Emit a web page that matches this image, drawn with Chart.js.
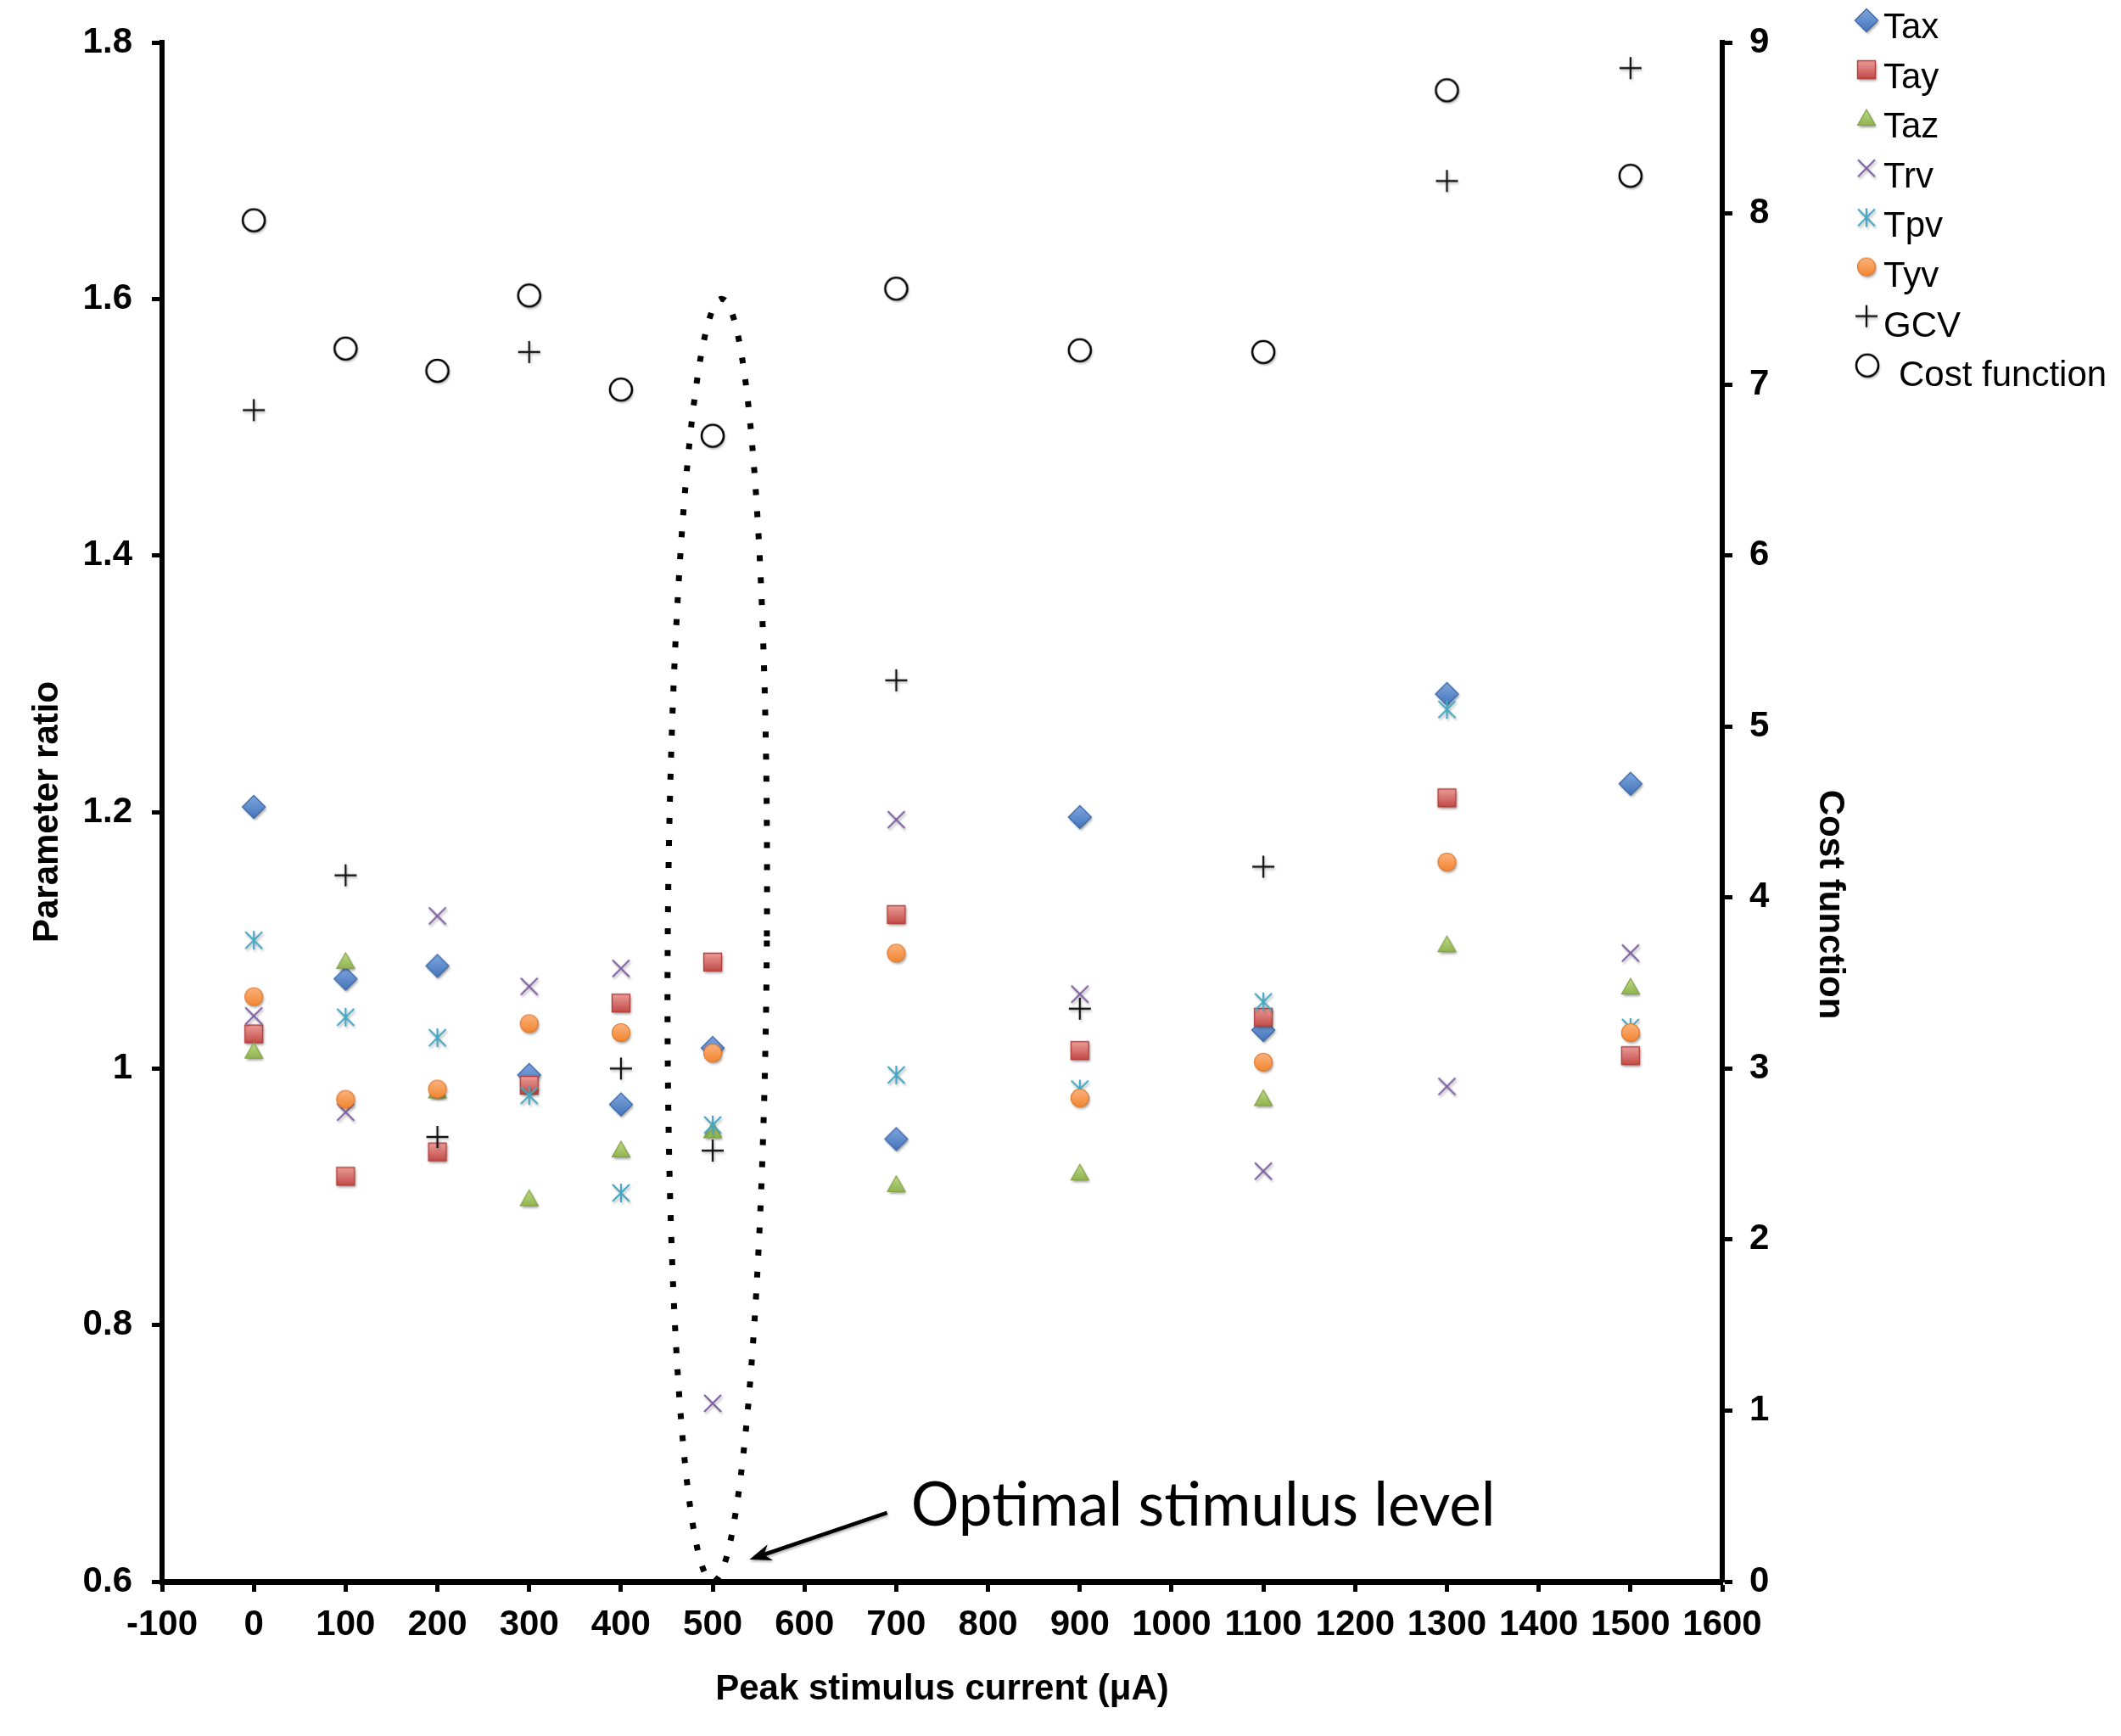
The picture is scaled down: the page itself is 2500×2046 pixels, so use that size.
<!DOCTYPE html>
<html><head><meta charset="utf-8">
<script src="https://cdn.jsdelivr.net/npm/chart.js@4.4.1/dist/chart.umd.min.js"></script>
<style>html,body{margin:0;padding:0;background:#fff;overflow:hidden}canvas{display:block}</style>
</head><body>
<canvas id="c" width="2500" height="2046" style="width:2500px;height:2046px"></canvas>
<script>
// ---- data ----
const stimulus = [0, 100, 200, 300, 400, 500, 700, 900, 1100, 1300, 1500];
const tax  = [1.204, 1.070, 1.080, 0.995, 0.972, 1.016, 0.945, 1.196, 1.030, 1.292, 1.222];
const tay  = [1.027, 0.916, 0.935, 0.987, 1.051, 1.083, 1.120, 1.014, 1.040, 1.211, 1.010];
const taz  = [1.013, 1.083, 0.982, 0.898, 0.936, 0.951, 0.909, 0.918, 0.976, 1.096, 1.063];
const trv  = [1.041, 0.966, 1.119, 1.064, 1.078, 0.739, 1.194, 1.058, 0.920, 0.986, 1.090];
const tpv  = [1.100, 1.040, 1.024, 0.979, 0.903, 0.956, 0.995, 0.984, 1.052, 1.280, 1.032];
const tyv  = [1.056, 0.976, 0.984, 1.035, 1.028, 1.012, 1.090, 0.977, 1.005, 1.161, 1.028];
const gcv  = [6.85, 4.13, 2.60, 7.19, 3.00, 2.52, 5.27, 3.35, 4.18, 8.19, 8.85];
const cost = [7.96, 7.21, 7.08, 7.52, 6.97, 6.70, 7.56, 7.20, 7.19, 8.72, 8.22];
const seriesNames = ['Tax', 'Tay', 'Taz', 'Trv', 'Tpv', 'Tyv', 'GCV', 'Cost function'];
const xTickValues = [-100, 0, 100, 200, 300, 400, 500, 600, 700, 800, 900, 1000, 1100, 1200, 1300, 1400, 1500, 1600];
const leftTickValues = [0.6, 0.8, 1.0, 1.2, 1.4, 1.6, 1.8];
const rightTickValues = [0, 1, 2, 3, 4, 5, 6, 7, 8, 9];
const xTitle = 'Peak stimulus current (\u03bcA)';
const leftTitle = 'Parameter ratio';
const rightTitle = 'Cost function';
const annotationText = 'Optimal stimulus level';

const FONT = "'Liberation Sans', Arial, Helvetica, sans-serif";

// ---- marker images (Excel-like) ----
function makeMarker(kind) {
  const S = 44;
  const c = document.createElement('canvas');
  c.width = S; c.height = S;
  const g = c.getContext('2d');
  g.translate(S / 2, S / 2);
  const shadow = (a) => { g.shadowColor = 'rgba(0,0,0,' + a + ')'; g.shadowBlur = 3; g.shadowOffsetX = 1.5; g.shadowOffsetY = 2.5; };
  const noShadow = () => { g.shadowColor = 'transparent'; };
  const grad = (top, bot, h) => { const gr = g.createLinearGradient(0, -h, 0, h); gr.addColorStop(0, top); gr.addColorStop(1, bot); return gr; };
  g.lineJoin = 'miter';
  switch (kind) {
    case 'diamond': {
      const r = 13.5;
      g.beginPath(); g.moveTo(0, -r); g.lineTo(r, 0); g.lineTo(0, r); g.lineTo(-r, 0); g.closePath();
      shadow(0.35); g.fillStyle = grad('#7FA7DD', '#4474BC', r); g.fill();
      noShadow(); g.lineWidth = 1.4; g.strokeStyle = '#3D68A8'; g.stroke();
      break;
    }
    case 'square': {
      const h = 10.5;
      g.beginPath(); g.rect(-h, -h, 2 * h, 2 * h);
      shadow(0.35); g.fillStyle = grad('#EC9C99', '#C24B47', h); g.fill();
      noShadow(); g.lineWidth = 1.4; g.strokeStyle = '#B03F3B'; g.stroke();
      break;
    }
    case 'triangle': {
      g.beginPath(); g.moveTo(0, -11); g.lineTo(10.5, 7.5); g.lineTo(-10.5, 7.5); g.closePath();
      shadow(0.35); g.fillStyle = grad('#BAD784', '#8CB048', 9); g.fill();
      noShadow(); g.lineWidth = 1.2; g.strokeStyle = '#7F9E43'; g.stroke();
      break;
    }
    case 'circle': {
      g.beginPath(); g.arc(0, 0, 10.5, 0, Math.PI * 2);
      shadow(0.35); g.fillStyle = grad('#FBB27E', '#F3862F', 10.5); g.fill();
      noShadow(); g.lineWidth = 1.2; g.strokeStyle = '#E07A2E'; g.stroke();
      break;
    }
    case 'x': {
      const r = 10;
      g.beginPath(); g.moveTo(-r, -r); g.lineTo(r, r); g.moveTo(r, -r); g.lineTo(-r, r);
      shadow(0.25); g.lineWidth = 2.2; g.strokeStyle = '#7C5FA0'; g.stroke();
      break;
    }
    case 'asterisk': {
      const r = 10;
      g.beginPath(); g.moveTo(0, -r - 1); g.lineTo(0, r + 1);
      g.moveTo(-r, -r); g.lineTo(r, r); g.moveTo(r, -r); g.lineTo(-r, r);
      shadow(0.25); g.lineWidth = 2.2; g.strokeStyle = '#45A7C2'; g.stroke();
      break;
    }
    case 'plus': {
      const r = 13;
      g.beginPath(); g.moveTo(-r, 0); g.lineTo(r, 0); g.moveTo(0, -r); g.lineTo(0, r);
      shadow(0.2); g.lineWidth = 2.3; g.strokeStyle = '#111'; g.stroke();
      break;
    }
    case 'open': {
      g.beginPath(); g.arc(0, 0, 13, 0, Math.PI * 2);
      shadow(0.35); g.fillStyle = '#fff'; g.fill();
      noShadow(); g.lineWidth = 2.6; g.strokeStyle = '#000'; g.stroke();
      break;
    }
  }
  return c;
}
const markerKinds = ['diamond', 'square', 'triangle', 'x', 'asterisk', 'circle', 'plus', 'open'];
const seriesValues = [tax, tay, taz, trv, tpv, tyv, gcv, cost];
const seriesAxis = ['y', 'y', 'y', 'y', 'y', 'y', 'y1', 'y1'];

const datasets = seriesNames.map((name, i) => ({
  label: name,
  data: stimulus.map((x, k) => ({ x: x, y: seriesValues[i][k] })),
  yAxisID: seriesAxis[i],
  pointStyle: makeMarker(markerKinds[i]),
  pointRadius: 12,
  showLine: false,
  order: 20 - i
}));

// ---- custom drawing: annotation, legend, right-axis title ----
const extras = {
  id: 'extras',
  afterDraw(chart) {
    const ctx = chart.ctx;
    const xs = chart.scales.x, ys = chart.scales.y;
    const ca = chart.chartArea;
    ctx.save();
    // dotted ellipse around optimal level
    const cx = xs.getPixelForValue(505);
    const cy = (ys.getPixelForValue(1.6) + ys.getPixelForValue(0.6)) / 2;
    const ry = Math.abs(ys.getPixelForValue(0.6) - ys.getPixelForValue(1.6)) / 2;
    const rx = Math.abs(xs.getPixelForValue(559) - xs.getPixelForValue(505));
    ctx.beginPath();
    ctx.ellipse(cx, cy, rx, ry, 0.007, 0, Math.PI * 2);
    ctx.setLineDash([7, 19]);
    ctx.lineWidth = 7;
    ctx.strokeStyle = '#000';
    ctx.stroke();
    ctx.setLineDash([]);
    // arrow
    const ax1 = xs.getPixelForValue(690), ay1 = ys.getPixelForValue(0.6536);
    const ax2 = xs.getPixelForValue(540), ay2 = ys.getPixelForValue(0.6172);
    const ang = Math.atan2(ay2 - ay1, ax2 - ax1);
    ctx.shadowColor = 'rgba(0,0,0,0.3)'; ctx.shadowBlur = 3; ctx.shadowOffsetX = 1; ctx.shadowOffsetY = 2;
    ctx.beginPath();
    ctx.moveTo(ax1, ay1);
    ctx.lineTo(ax2 - 14 * Math.cos(ang), ay2 - 14 * Math.sin(ang));
    ctx.lineWidth = 4.5;
    ctx.stroke();
    ctx.beginPath();
    ctx.moveTo(ax2, ay2);
    ctx.lineTo(ax2 - 26 * Math.cos(ang) + 10 * Math.sin(ang), ay2 - 26 * Math.sin(ang) - 10 * Math.cos(ang));
    ctx.lineTo(ax2 - 18 * Math.cos(ang), ay2 - 18 * Math.sin(ang));
    ctx.lineTo(ax2 - 26 * Math.cos(ang) - 10 * Math.sin(ang), ay2 - 26 * Math.sin(ang) + 10 * Math.cos(ang));
    ctx.closePath();
    ctx.fillStyle = '#000';
    ctx.fill();
    ctx.shadowColor = 'transparent';
    // annotation text
    ctx.font = "71px Lato, 'Open Sans', sans-serif";
    ctx.textAlign = 'left';
    ctx.textBaseline = 'alphabetic';
    ctx.fillStyle = '#000';
    ctx.fillText(annotationText, xs.getPixelForValue(716), ys.getPixelForValue(0.6437));
    // right axis title
    ctx.save();
    ctx.translate(chart.scales.y1.left + 127, (ca.top + ca.bottom) / 2 + 109);
    ctx.rotate(Math.PI / 2);
    ctx.font = 'bold 42px ' + FONT;
    ctx.textAlign = 'center';
    ctx.textBaseline = 'middle';
    ctx.fillText(rightTitle, 0, 0);
    ctx.restore();
    // legend
    ctx.font = '42px ' + FONT;
    ctx.textAlign = 'left';
    ctx.textBaseline = 'alphabetic';
    chart.data.datasets.forEach((ds, i) => {
      const img = ds.pointStyle;
      const last = i === chart.data.datasets.length - 1;
      const mx = last ? 2201 : 2200;
      const my = 24 + 58.1 * i;
      ctx.drawImage(img, mx - img.width / 2, my - img.height / 2);
      ctx.fillText(ds.label, last ? 2238 : 2220, 30 + 58.6 * i + 15);
    });
    ctx.restore();
  }
};

const tickFont = { family: FONT, size: 42, weight: 'bold' };
const plainLabel = (v) => String(Math.round(v * 1000) / 1000);

new Chart(document.getElementById('c'), {
  type: 'scatter',
  data: { datasets: datasets },
  plugins: [extras],
  options: {
    responsive: false,
    devicePixelRatio: 1,
    animation: false,
    events: [],
    layout: { padding: { top: 50, left: 0, right: 0, bottom: 0 } },
    plugins: { legend: { display: false }, tooltip: { enabled: false } },
    scales: {
      x: {
        type: 'linear', position: 'bottom', min: -100, max: 1600,
        afterBuildTicks: (s) => { s.ticks = xTickValues.map(v => ({ value: v })); },
        afterFit: (s) => { s.height = 182; },
        ticks: { font: tickFont, color: '#000', padding: 14, maxRotation: 0, autoSkip: false, callback: plainLabel },
        grid: { drawOnChartArea: false, drawTicks: true, tickLength: 12, tickWidth: 5, tickColor: '#000' },
        border: { display: true, color: '#000', width: 7 },
        title: { display: true, text: xTitle, color: '#000', font: tickFont, padding: { top: 0, bottom: 29 } }
      },
      y: {
        type: 'linear', position: 'left', min: 0.6, max: 1.8,
        afterBuildTicks: (s) => { s.ticks = leftTickValues.map(v => ({ value: v })); },
        afterFit: (s) => { s.width = 191; },
        ticks: { font: tickFont, color: '#000', padding: 23, autoSkip: false, callback: plainLabel },
        grid: { drawOnChartArea: false, drawTicks: true, tickLength: 12, tickWidth: 5, tickColor: '#000' },
        border: { display: true, color: '#000', width: 6 },
        title: { display: true, text: leftTitle, color: '#000', font: tickFont, padding: { top: 31, bottom: 0 } }
      },
      y1: {
        type: 'linear', position: 'right', min: 0, max: 9,
        afterBuildTicks: (s) => { s.ticks = rightTickValues.map(v => ({ value: v })); },
        afterFit: (s) => { s.width = 470; },
        ticks: { font: tickFont, color: '#000', padding: 20, autoSkip: false, callback: plainLabel },
        grid: { drawOnChartArea: false, drawTicks: true, tickLength: 12, tickWidth: 5, tickColor: '#000' },
        border: { display: true, color: '#000', width: 6 }
      }
    }
  }
});
</script>
</body></html>
